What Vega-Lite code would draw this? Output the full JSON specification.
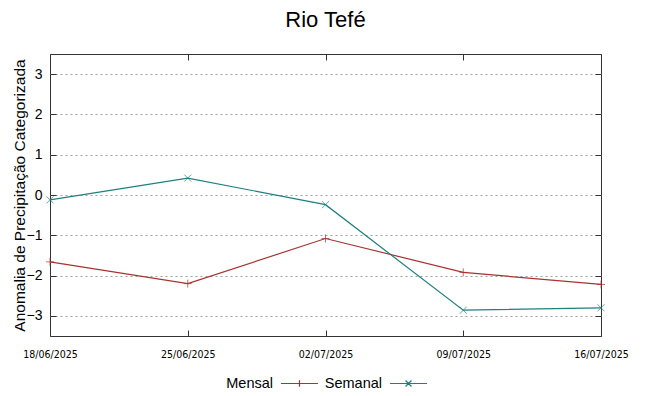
{
  "$schema": "https://vega.github.io/schema/vega-lite/v6.json",
  "width": 551,
  "height": 282,
  "autosize": {"type": "none"},
  "padding": {"left": 50, "top": 54, "right": 48, "bottom": 60},
  "background": "white",
  "title": {"text": "Rio Tefé", "fontSize": 22, "font": "Liberation Sans", "fontWeight": "normal", "color": "#000000", "offset": 22, "anchor": "middle"},
  "config": {"view": {"stroke": "#333333", "strokeWidth": 1}, "font": "Liberation Sans"},
  "data": {"values": [
    {"data": "18/06/2025", "serie": "Mensal", "valor": -1.66},
    {"data": "25/06/2025", "serie": "Mensal", "valor": -2.2},
    {"data": "02/07/2025", "serie": "Mensal", "valor": -1.08},
    {"data": "09/07/2025", "serie": "Mensal", "valor": -1.92},
    {"data": "16/07/2025", "serie": "Mensal", "valor": -2.22},
    {"data": "18/06/2025", "serie": "Semanal", "valor": -0.12},
    {"data": "25/06/2025", "serie": "Semanal", "valor": 0.42},
    {"data": "02/07/2025", "serie": "Semanal", "valor": -0.24},
    {"data": "09/07/2025", "serie": "Semanal", "valor": -2.86},
    {"data": "16/07/2025", "serie": "Semanal", "valor": -2.8}
  ]},
  "resolve": {"axis": {"x": "independent", "y": "independent"}},
  "layer": [
    {
      "mark": {"type": "point", "opacity": 0, "filled": false},
      "encoding": {
        "x": {"field": "data", "type": "ordinal", "sort": null, "scale": {"type": "point", "padding": 0},
          "axis": {"title": null, "labelAngle": 0, "labelFont": "DejaVu Sans Condensed", "labelFontSize": 10.5, "labelColor": "#000000", "domain": false, "tickSize": -6, "tickColor": "#333333", "labelPadding": 19, "grid": false}},
        "y": {"field": "valor", "type": "quantitative", "scale": {"domain": [-3.5, 3.5], "nice": false, "zero": false},
          "axis": {"title": "Anomalia de Precipitação Categorizada", "titleFontSize": 15.5, "titleFontWeight": "normal", "titleColor": "#000000", "titleFont": "Liberation Sans", "values": [-3, -2, -1, 0, 1, 2, 3], "labelFontSize": 14, "labelColor": "#000000", "domain": false, "tickSize": -6, "tickColor": "#333333", "labelPadding": 14, "grid": true, "gridColor": "#a0a0a0", "gridDash": [2, 3], "gridWidth": 1, "titlePadding": -1}},
        "color": {"field": "serie", "type": "nominal", "scale": {"domain": ["Mensal", "Semanal"], "range": ["#a83232", "#1f7f7f"]},
          "legend": {"title": null, "orient": "none", "legendX": 230, "legendY": 310, "direction": "horizontal", "labelFontSize": 14.5, "labelColor": "#000000", "symbolSize": 1369, "symbolStrokeWidth": 1.2, "symbolOpacity": 1, "columnPadding": 3, "labelAlign": "right", "labelOffset": -46}},
        "shape": {"field": "serie", "type": "nominal", "scale": {"domain": ["Mensal", "Semanal"], "range": ["M-1,0L1,0M0,-0.17L0,0.17", "M-1,0L1,0M-0.16,-0.16L0.16,0.16M-0.16,0.16L0.16,-0.16"]}}
      }
    },
    {
      "mark": {"type": "line", "strokeWidth": 1.2},
      "encoding": {
        "x": {"field": "data", "type": "ordinal", "sort": null, "axis": null},
        "y": {"field": "valor", "type": "quantitative", "axis": null},
        "color": {"field": "serie", "type": "nominal", "legend": null}
      }
    },
    {
      "transform": [{"filter": "datum.serie === 'Mensal'"}],
      "mark": {"type": "point", "filled": false, "size": 64, "strokeWidth": 1, "shape": "M-1,0L1,0M0,-1L0,1"},
      "encoding": {
        "x": {"field": "data", "type": "ordinal", "sort": null, "axis": null},
        "y": {"field": "valor", "type": "quantitative", "axis": null},
        "color": {"field": "serie", "type": "nominal", "legend": null}
      }
    },
    {
      "transform": [{"filter": "datum.serie === 'Semanal'"}],
      "mark": {"type": "point", "filled": false, "size": 49, "strokeWidth": 1, "shape": "M-1,-1L1,1M-1,1L1,-1"},
      "encoding": {
        "x": {"field": "data", "type": "ordinal", "sort": null, "axis": null},
        "y": {"field": "valor", "type": "quantitative", "axis": null},
        "color": {"field": "serie", "type": "nominal", "legend": null}
      }
    },
    {
      "mark": {"type": "point", "opacity": 0},
      "encoding": {
        "x": {"field": "data", "type": "ordinal", "sort": null, "axis": {"orient": "top", "labels": false, "domain": false, "tickSize": -6, "tickColor": "#333333", "title": null, "grid": false}},
        "y": {"field": "valor", "type": "quantitative", "axis": {"orient": "right", "values": [-3, -2, -1, 0, 1, 2, 3], "labels": false, "domain": false, "tickSize": -6, "tickColor": "#333333", "title": null, "grid": false}}
      }
    }
  ]
}
